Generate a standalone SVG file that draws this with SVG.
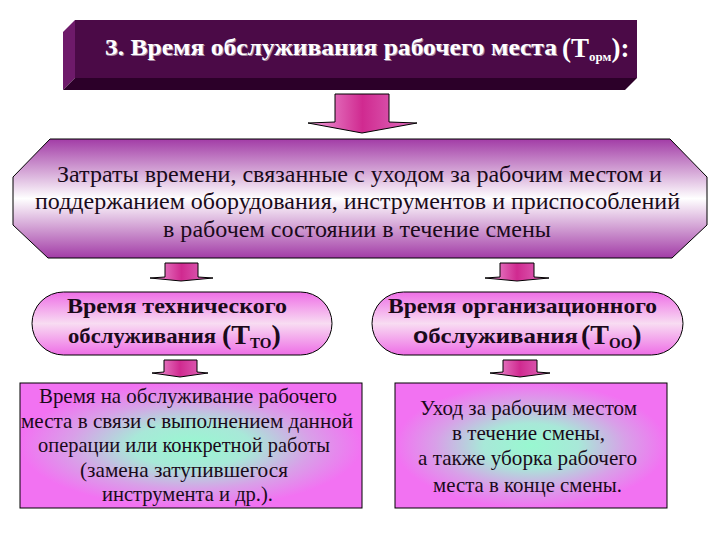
<svg xmlns="http://www.w3.org/2000/svg" width="720" height="540" viewBox="0 0 720 540" font-family="Liberation Serif, DejaVu Serif, serif">
<defs>
<linearGradient id="arrowG" x1="0" y1="0" x2="1" y2="0">
<stop offset="0" stop-color="#f0a0dc"/>
<stop offset="0.5" stop-color="#d02a90"/>
<stop offset="1" stop-color="#e070c0"/>
</linearGradient>
<linearGradient id="octG" x1="0" y1="0" x2="0" y2="1">
<stop offset="0" stop-color="#a23ca6"/>
<stop offset="0.5" stop-color="#ffffff"/>
<stop offset="1" stop-color="#a23ca6"/>
</linearGradient>
<linearGradient id="pillG" x1="0" y1="0" x2="0" y2="1">
<stop offset="0" stop-color="#ee6ee6"/>
<stop offset="0.5" stop-color="#f8dcf2"/>
<stop offset="1" stop-color="#ee6ee6"/>
</linearGradient>
<radialGradient id="boxG" cx="0.5" cy="0.5" r="0.5">
<stop offset="0" stop-color="#98f8d0"/>
<stop offset="0.35" stop-color="#a8e8d8"/>
<stop offset="0.7" stop-color="#d8a0e8"/>
<stop offset="1" stop-color="#f272f2"/>
</radialGradient>
</defs>
<style>
.ar{fill:url(#arrowG);stroke:#000;stroke-width:1}
text{font-family:'Liberation Serif','DejaVu Serif',serif}
.t{fill:#1a0a1a}
.oc{font-size:24px}
.pb{font-size:22px;font-weight:bold}
.bx{font-size:21px}
.ttl{font-weight:bold;fill:#ffffff}
.sans{font-family:'Liberation Sans','DejaVu Sans',sans-serif}
</style>
<rect width="720" height="540" fill="#ffffff"/>

<g id="title">
<polygon points="75,20 637,20 637,78 75,78" fill="#4b0a47"/>
<polygon points="63,32 75,20 75,78 63,90" fill="#6e1a6a"/>
<polygon points="63,90 75,78 637,78 625,90" fill="#2c0029"/>
<text class="ttl" x="106" y="56" font-size="23" textLength="452" lengthAdjust="spacingAndGlyphs" fill="#222" opacity="0.5">3. Время обслуживания рабочего места</text>
<text class="ttl" x="105" y="55" font-size="23" textLength="452" lengthAdjust="spacingAndGlyphs">3. Время обслуживания рабочего места</text>
<text class="ttl" x="562" y="57" font-size="27">(Т<tspan font-size="13" dy="4">орм</tspan><tspan dy="-4">):</tspan></text>
</g>

<g id="octagon">
<polygon points="50,139 670,139 707,177 707,225 672,258 48,258 13,225 13,177" fill="url(#octG)" stroke="#000" stroke-width="1"/>
<text class="t oc" x="57" y="182" textLength="605" lengthAdjust="spacingAndGlyphs">Затраты времени, связанные с уходом за рабочим местом и</text>
<text class="t oc" x="35" y="209" textLength="645" lengthAdjust="spacingAndGlyphs">поддержанием оборудования, инструментов и приспособлений</text>
<text class="t oc" x="163" y="237" textLength="388" lengthAdjust="spacingAndGlyphs">в рабочем состоянии в течение смены</text>
</g>

<g id="pill-left">
<rect x="32" y="292" width="300" height="63" rx="31.5" ry="31.5" fill="url(#pillG)" stroke="#000" stroke-width="1"/>
<text class="t pb" x="67" y="313" textLength="220" lengthAdjust="spacingAndGlyphs">Время технического</text>
<text class="t pb" x="68" y="343" textLength="148" lengthAdjust="spacingAndGlyphs">обслуживания</text>
<text class="t" x="222" y="344" font-size="28" font-weight="bold">(Т<tspan font-size="15" dy="4">ТО</tspan><tspan dy="-4">)</tspan></text>
</g>

<g id="pill-right">
<rect x="372" y="292" width="311" height="63" rx="31.5" ry="31.5" fill="url(#pillG)" stroke="#000" stroke-width="1"/>
<text class="t pb" x="388" y="313" textLength="269" lengthAdjust="spacingAndGlyphs">Время организационного</text>
<text class="t pb" x="413" y="343" textLength="165" lengthAdjust="spacingAndGlyphs"><tspan class="sans">о</tspan>бслуживания</text>
<text class="t" x="581" y="344" font-size="28" font-weight="bold">(Т<tspan font-size="15" dy="4">ОО</tspan><tspan dy="-4">)</tspan></text>
</g>

<g id="box-left">
<rect x="20" y="383" width="342" height="125" fill="url(#boxG)" stroke="#000" stroke-width="1"/>
<text class="t bx" x="39" y="403" textLength="298" lengthAdjust="spacingAndGlyphs">Время на обслуживание рабочего</text>
<text class="t bx" x="21" y="428" textLength="332" lengthAdjust="spacingAndGlyphs">места в связи с выполнением данной</text>
<text class="t bx" x="38" y="452" textLength="292" lengthAdjust="spacingAndGlyphs">операции или конкретной работы</text>
<text class="t bx" x="80" y="477" textLength="208" lengthAdjust="spacingAndGlyphs">(замена затупившегося</text>
<text class="t bx" x="102" y="501" textLength="171" lengthAdjust="spacingAndGlyphs">инструмента и др.).</text>
</g>

<g id="box-right">
<rect x="395" y="383" width="272" height="125" fill="url(#boxG)" stroke="#000" stroke-width="1"/>
<text class="t bx" x="420" y="415" textLength="217" lengthAdjust="spacingAndGlyphs">Уход за рабочим местом</text>
<text class="t bx" x="452" y="440" textLength="153" lengthAdjust="spacingAndGlyphs">в течение смены,</text>
<text class="t bx" x="418" y="465" textLength="219" lengthAdjust="spacingAndGlyphs">а также уборка рабочего</text>
<text class="t bx" x="433" y="492" textLength="189" lengthAdjust="spacingAndGlyphs">места в конце смены.</text>
</g>

<g id="connectors">
<polygon class="ar" points="335,94 389,94 389,122 417,123 362,133 308,123 335,122"/>
<polygon class="ar" points="165,263 198,263 198,277 213,278 181,281 150,278 165,277"/>
<polygon class="ar" points="500,263 534,263 534,277 549,278 517,281 485,278 500,277"/>
<polygon class="ar" points="164,360 197,360 197,372 208,373 180,377 152,373 164,372"/>
<polygon class="ar" points="503,360 537,360 537,372 550,373 520,377 490,373 503,372"/>
</g>
</svg>
